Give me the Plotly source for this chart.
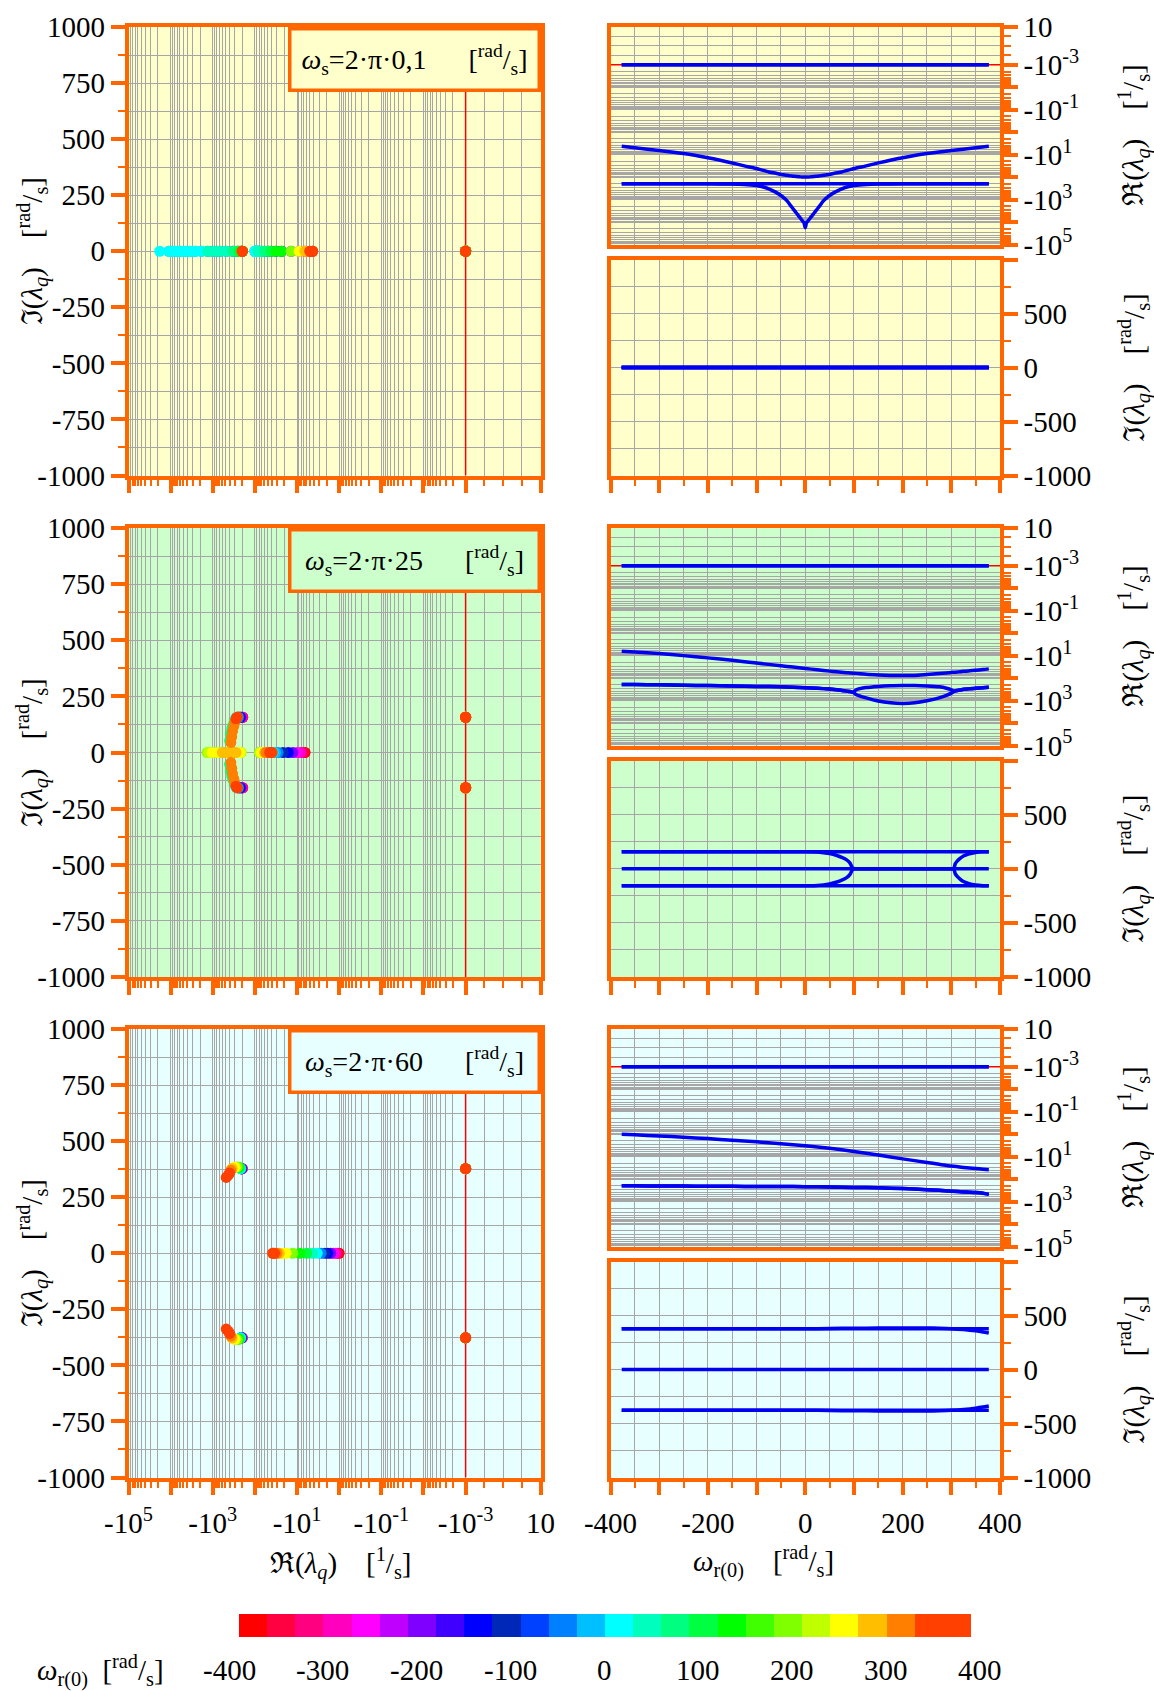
import numpy as np
import plotly.graph_objects as go

# ---------------------------------------------------------------- data
# colour scale used for the rotor speed omega_r(0) [rad/s]
CB_COLORS = ["#FF0000", "#FF0040", "#FF0080", "#FF00BF", "#FF00FF", "#BF00FF", "#8000FF",
             "#4000FF", "#0000FF", "#0028B8", "#0040FF", "#0080FF", "#00BFFF", "#00FFFF",
             "#00FFBF", "#00FF80", "#00FF40", "#00FF00", "#40FF00", "#80FF00", "#BFFF00",
             "#FFFF00", "#FFBF00", "#FF8000", "#FF4000"]
CB_UNITS = [1] * 24 + [2]
CB_TICKS = [-400, -300, -200, -100, 0, 100, 200, 300, 400]

WS_LABELS = ["2·π·0,1", "2·π·25", "2·π·60"]
P1_RE = -0.001                      # constant pole pair on the -10^-3 line
P1_IM = [0.63, 157.0, 377.0]        # its imaginary part per row
IM_RANGE = [-1000, 1000]
W_RANGE = [-400, 400]

# ---- row 1 (omega_s = 2*pi*0.1)
W1 = [-377, -350, -300, -250, -200, -150, -125, -100, -90, -75, -60, -50, -45, -40, -35, -30,
      -25, -22.5, -20, -17.5, -15, -12.5, -10, -7.5, -5, -2.5, 0, 2.5, 5, 7.5, 10, 12.5, 15,
      17.5, 20, 22.5, 25, 30, 35, 40, 45, 50, 60, 75, 90, 100, 125, 150, 200, 250, 300, 350, 377]
R1_RE_V = [-4.27, -5.0, -6.5, -8.9, -13.8, -23.4, -31.6, -41.7, -47.9, -58.9, -67.6, -75.9,
           -79.4, -82.2, -85.1, -88.1, -91.2, -92.3, -93.3, -94.4, -95.5, -96.6, -97.7, -98.4,
           -99.0, -99.5, -100.0, -99.5, -99.0, -98.4, -97.7, -96.6, -95.5, -94.4, -93.3, -92.3,
           -91.2, -88.1, -85.1, -82.2, -79.4, -75.9, -67.6, -58.9, -47.9, -41.7, -31.6, -23.4,
           -13.8, -8.9, -6.5, -5.0, -4.27]
R1_RE_FLAT = [-200.0] * len(W1)
R1_RE_DIP = [-200, -200, -200, -200, -200, -204, -214, -240, -263, -331, -479, -661, -794,
             -1000, -1318, -1862, -2570, -3020, -3550, -4170, -4900, -5750, -6760, -7940, -9330,
             -11000, -18200, -11000, -9330, -7940, -6760, -5750, -4900, -4170, -3550, -3020,
             -2570, -1862, -1318, -1000, -794, -661, -479, -331, -263, -240, -214, -204, -200,
             -200, -200, -200, -200]

# ---- row 2 (omega_s = 2*pi*25)
W2 = [-377, -350, -300, -250, -200, -150, -100, -50, -25, 0, 25, 50, 65, 75, 85, 92, 98,
      105, 125, 150, 175, 200, 225, 250, 275, 290, 300, 305, 308, 312, 318, 325, 335, 350, 365,
      377]
R2_RE_A = [-6.46, -6.92, -8.13, -10.0, -12.6, -16.2, -21.4, -28.2, -32.4, -37.2, -42.7, -49.0,
           -52.5, -55.0, -57.5, -58.9, -60.3, -61.7, -67.6, -72.4, -75.9, -77.6, -75.9, -69.2,
           -63.1, -58.9, -56.2, -55.0, -54.5, -53.7, -52.0, -50.1, -48.0, -44.7, -41.7, -38.9]
R2_RE_P2U = [-195, -195, -200, -209, -214, -224, -234, -245, -257, -269, -282, -309, -331, -355,
             -380, -398, -427, -331, -263, -234, -219, -214, -214, -224, -245, -282, -331, -389,
             -372, -355, -339, -316, -302, -282, -269, -257]
R2_RE_P2L = [-195, -195, -200, -209, -214, -224, -234, -245, -257, -269, -282, -309, -331, -355,
             -380, -398, -427, -550, -759, -1047, -1259, -1349, -1259, -1023, -759, -589, -468,
             -398, -372, -355, -339, -316, -302, -282, -269, -257]
R2_IM_P2 = [157, 157, 157, 157, 157, 157, 157, 157, 157, 157, 155, 140, 122, 105, 82, 52, 0,
            0, 0, 0, 0, 0, 0, 0, 0, 0, 0, 0, 45, 70, 95, 118, 135, 150, 156, 158]

# ---- row 3 (omega_s = 2*pi*60)
W3 = [-377, -350, -300, -250, -200, -150, -100, -50, 0, 50, 100, 150, 200, 250, 275, 300, 325,
      350, 365, 377]
R3_RE_A = [-1.00, -1.07, -1.20, -1.38, -1.58, -1.86, -2.19, -2.69, -3.31, -4.27, -5.89, -8.51,
           -12.6, -18.2, -21.9, -26.3, -30.2, -33.9, -36.3, -38.0]
R3_RE_P2 = [-200, -200, -204, -204, -209, -209, -214, -214, -219, -224, -234, -245, -263, -295,
            -316, -347, -372, -398, -427, -479]
R3_IM_P2 = [377, 377, 377, 377, 377, 377, 377, 377, 377, 380, 382, 384, 385, 384, 382, 378, 370,
            358, 348, 338]

# ---------------------------------------------------------------- style
FIG_W, FIG_H = 1154, 1691
FONT = "Liberation Serif, Times New Roman, DejaVu Serif, serif"
ORANGE = "#FF6600"
GRID = "#A6A6A6"
BLUE = "#0000F0"
BGS = ["#FFFFCC", "#CCFFCC", "#E8FFFF"]
LL, LR = 1.777, 1.68        # length (in decades) of the linear part -1e-3 .. 10


def T(v, L):
    """axis transform: -log10(-x) for x <= -1e-3, linear between -1e-3 and 10"""
    v = np.asarray(v, dtype=float)
    neg = -np.log10(np.clip(-v, 1e-12, None))
    lin = 3 + (v + 1e-3) / (10 + 1e-3) * L
    return np.where(v <= -1e-3, neg, lin)


def wcolor(w):
    unit = 800.0 / sum(CB_UNITS)
    i = int(np.floor((w + 400.0) / unit + 1e-9))
    return CB_COLORS[min(max(i, 0), len(CB_COLORS) - 1)]


def zeros(n):
    return [0.0] * n


def neg(a):
    return [-x for x in a]


def sfx(i):
    return "" if i == 1 else str(i)


ROWS = [
    dict(branches=[(W1, [P1_RE] * len(W1), [P1_IM[0]] * len(W1)),
                   (W1, [P1_RE] * len(W1), [-P1_IM[0]] * len(W1)),
                   (W1, R1_RE_V, zeros(len(W1))),
                   (W1, R1_RE_FLAT, zeros(len(W1))),
                   (W1, R1_RE_DIP, zeros(len(W1)))]),
    dict(branches=[(W2, [P1_RE] * len(W2), [P1_IM[1]] * len(W2)),
                   (W2, [P1_RE] * len(W2), [-P1_IM[1]] * len(W2)),
                   (W2, R2_RE_A, zeros(len(W2))),
                   (W2, R2_RE_P2U, R2_IM_P2),
                   (W2, R2_RE_P2L, neg(R2_IM_P2))]),
    dict(branches=[(W3, [P1_RE] * len(W3), [P1_IM[2]] * len(W3)),
                   (W3, [P1_RE] * len(W3), [-P1_IM[2]] * len(W3)),
                   (W3, R3_RE_A, zeros(len(W3))),
                   (W3, R3_RE_P2, R3_IM_P2),
                   (W3, R3_RE_P2, neg(R3_IM_P2))]),
]

ROW_PX = [(27, 475.5), (528, 977), (1029, 1477.5)]
LEFT_PX = (128.5, 540.5)
RIGHT_PX = (610.5, 1000.0)
RT_H, GAP = 217.5, 15.0


def dx(a, b):
    return [a / FIG_W, b / FIG_W]


def dy(top, bot):
    return [1 - bot / FIG_H, 1 - top / FIG_H]


def xc(p):
    return p / FIG_W


def yc(p):
    return 1 - p / FIG_H


TXT = dict(family=FONT, size=29, color="black")


def axis(**kw):
    d = dict(showline=True, linecolor=ORANGE, linewidth=3.5, mirror=True, zeroline=False,
             showgrid=True, gridcolor=GRID, gridwidth=1.4, ticks="outside", ticklen=14,
             tickwidth=3.5, tickcolor=ORANGE, tickfont=TXT, tickmode="array",
             automargin=False)
    d.update(kw)
    return d


def minor(vals, ticks="outside"):
    return dict(tickmode="array", tickvals=list(vals), ticks=ticks, ticklen=7, tickwidth=1.5,
                tickcolor=ORANGE, showgrid=True, gridcolor=GRID, gridwidth=1.2)


def log_axis_vals(L):
    major = [float(T(-10.0 ** k, L)) for k in range(5, -4, -1)] + [3 + L]
    text = [f"-10<sup>{k}</sup>" if k % 2 else "" for k in range(5, -4, -1)] + ["10"]
    mins = [float(T(-j * 10.0 ** k, L)) for k in range(-3, 5) for j in range(2, 10)]
    mins += [3 + L * i / 4 for i in (1, 2, 3)]
    return major, text, mins


def paper_text(x, y, text, angle=0):
    return dict(xref="paper", yref="paper", x=xc(x), y=yc(y), xanchor="center",
                yanchor="middle", text=text, textangle=angle, showarrow=False, font=TXT)


fig = go.Figure()
layout = {}
shapes, annotations = [], []

SUP = "<sup>rad</sup>/<sub>s</sub>"
IM_TITLE = "ℑ(<i>λ<sub>q</sub></i>)\u2002\u2002[" + SUP + "]"
RE_TITLE = "ℜ(<i>λ<sub>q</sub></i>)\u2002\u2002[<sup>1</sup>/<sub>s</sub>]"

for r, row in enumerate(ROWS):
    top, bot = ROW_PX[r]
    iL, iT, iB = 3 * r + 1, 3 * r + 2, 3 * r + 3
    xL, yL, xT, yT, xB, yB = (f"x{sfx(iL)}", f"y{sfx(iL)}", f"x{sfx(iT)}", f"y{sfx(iT)}",
                              f"x{sfx(iB)}", f"y{sfx(iB)}")
    last = (r == 2)
    bg = BGS[r]

    # ---------- left panel: root locus, coloured by omega
    p1x = float(T(P1_RE, LL))
    fig.add_trace(go.Scatter(x=[p1x, p1x], y=IM_RANGE, mode="lines",
                             line=dict(color="#FF0000", width=1.5), xaxis=xL, yaxis=yL,
                             hoverinfo="skip"))
    ws, xs, ys = [], [], []
    for (w, re, im) in row["branches"]:
        ws += list(w)
        xs += list(T(re, LL))
        ys += list(im)
    order = np.argsort(np.asarray(ws, float), kind="stable")
    fig.add_trace(go.Scatter(
        x=[xs[k] for k in order], y=[ys[k] for k in order], mode="markers",
        marker=dict(size=11, color=[wcolor(ws[k]) for k in order], line=dict(width=0)),
        xaxis=xL, yaxis=yL, hoverinfo="skip"))

    maj, txt, mins = log_axis_vals(LL)
    layout[f"xaxis{sfx(iL)}"] = axis(domain=dx(*LEFT_PX), anchor=yL, range=[-5, 3 + LL],
                                     tickvals=maj, ticktext=txt, showticklabels=last,
                                     ticklabelstandoff=3, minor=minor(mins))
    layout[f"yaxis{sfx(iL)}"] = axis(domain=dy(top, bot), anchor=xL, range=IM_RANGE,
                                     tickvals=list(range(-1000, 1001, 250)),
                                     ticktext=[str(v) for v in range(-1000, 1001, 250)],
                                     minor=minor(range(-875, 876, 250)))
    shapes.append(dict(type="rect", xref=f"{xL} domain", yref=f"{yL} domain",
                       x0=0, x1=1, y0=0, y1=1, fillcolor=bg, line=dict(width=0),
                       layer="below"))
    annotations.append(dict(
        xref=f"{xL} domain", yref=f"{yL} domain", x=1, y=1, xanchor="right", yanchor="top",
        text="<i>ω</i><sub>s</sub>=" + WS_LABELS[r] + "\u2003\u2002[" + SUP + "]",
        showarrow=False, bgcolor=bg, bordercolor=ORANGE, borderwidth=3.5, borderpad=3,
        width=240, height=52, align="center", font=dict(family=FONT, size=28, color="black")))
    annotations.append(paper_text(32, (top + bot) / 2, IM_TITLE, -90))

    # ---------- right top: Re vs omega
    p1y = float(T(P1_RE, LR))
    fig.add_trace(go.Scatter(x=W_RANGE, y=[p1y, p1y], mode="lines",
                             line=dict(color="#FF0000", width=1.5), xaxis=xT, yaxis=yT,
                             hoverinfo="skip"))
    for (w, re, im) in row["branches"]:
        fig.add_trace(go.Scatter(x=w, y=T(re, LR), mode="lines",
                                 line=dict(color=BLUE, width=3.5, shape="spline", smoothing=0.6),
                                 xaxis=xT, yaxis=yT, hoverinfo="skip"))
    majR, txtR, minsR = log_axis_vals(LR)
    rt_top, rt_bot = top, top + RT_H
    layout[f"xaxis{sfx(iT)}"] = axis(domain=dx(*RIGHT_PX), anchor=yT, range=W_RANGE,
                                     tickvals=list(range(-400, 401, 50)), ticks="",
                                     showticklabels=False)
    layout[f"yaxis{sfx(iT)}"] = axis(domain=dy(rt_top, rt_bot), anchor=xT, side="right",
                                     range=[-5, 3 + LR], tickvals=majR, ticktext=txtR,
                                     minor=minor(minsR))
    shapes.append(dict(type="rect", xref=f"{xT} domain", yref=f"{yT} domain",
                       x0=0, x1=1, y0=0, y1=1, fillcolor=bg, line=dict(width=0),
                       layer="below"))
    annotations.append(paper_text(1134, (rt_top + rt_bot) / 2, RE_TITLE, -90))

    # ---------- right bottom: Im vs omega
    for (w, re, im) in row["branches"]:
        fig.add_trace(go.Scatter(x=w, y=im, mode="lines",
                                 line=dict(color=BLUE, width=3.5, shape="spline", smoothing=0.6),
                                 xaxis=xB, yaxis=yB, hoverinfo="skip"))
    rb_top, rb_bot = top + RT_H + GAP, bot
    layout[f"xaxis{sfx(iB)}"] = axis(domain=dx(*RIGHT_PX), anchor=yB, range=W_RANGE,
                                     tickvals=list(range(-400, 401, 100)),
                                     ticktext=[str(v) if v % 200 == 0 else "" for v in
                                               range(-400, 401, 100)],
                                     showticklabels=last, ticklabelstandoff=3,
                                     minor=minor(range(-350, 351, 100)))
    layout[f"yaxis{sfx(iB)}"] = axis(domain=dy(rb_top, rb_bot), anchor=xB, side="right",
                                     range=IM_RANGE, tickvals=[-1000, -500, 0, 500, 1000],
                                     ticktext=["-1000", "-500", "0", "500", ""],
                                     minor=minor([-750, -250, 250, 750]))
    shapes.append(dict(type="rect", xref=f"{xB} domain", yref=f"{yB} domain",
                       x0=0, x1=1, y0=0, y1=1, fillcolor=bg, line=dict(width=0),
                       layer="below"))
    annotations.append(paper_text(1134, (rb_top + rb_bot) / 2, IM_TITLE, -90))

# x titles of the last row
annotations.append(paper_text(340, 1563, RE_TITLE))
annotations.append(paper_text(763, 1561, "<i>ω</i><sub>r(0)</sub>\u2002\u2002[" + SUP + "]"))

# ---------------------------------------------------------------- colour bar
unit = 800.0 / sum(CB_UNITS)
edges = np.concatenate([[0], np.cumsum(CB_UNITS)]) * unit - 400
fig.add_trace(go.Bar(x=(edges[:-1] + edges[1:]) / 2, y=[1] * len(CB_COLORS),
                     width=np.diff(edges), marker=dict(color=CB_COLORS, line=dict(width=0)),
                     xaxis="x10", yaxis="y10", hoverinfo="skip"))
layout["xaxis10"] = dict(domain=dx(239, 971), anchor="y10", range=[-400, 400], showgrid=False,
                         zeroline=False, showline=False, ticks="", showticklabels=False,
                         automargin=False)
layout["yaxis10"] = dict(domain=dy(1614, 1637), anchor="x10", range=[0, 1], showgrid=False,
                         zeroline=False, showline=False, ticks="", showticklabels=False,
                         automargin=False)
for v in CB_TICKS:
    annotations.append(paper_text(229 + (v + 400) / 800 * (980 - 229), 1670, str(v)))
annotations.append(paper_text(100, 1670, "<i>ω</i><sub>r(0)</sub>\u2002[" + SUP + "]"))

fig.update_layout(width=FIG_W, height=FIG_H,
                  margin=dict(l=0, r=0, t=0, b=0, pad=0, autoexpand=False),
                  paper_bgcolor="white", plot_bgcolor="rgba(0,0,0,0)", showlegend=False,
                  bargap=0, font=TXT, shapes=shapes, annotations=annotations, **layout)
fig.write_html("out.html")
